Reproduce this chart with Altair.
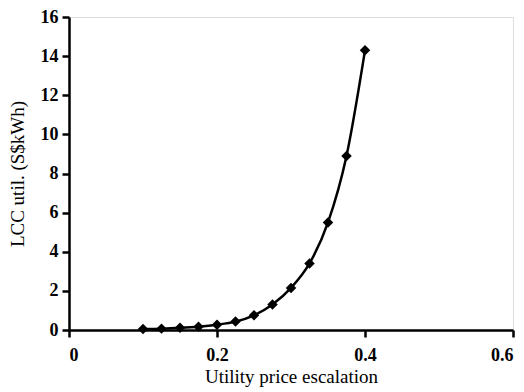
import altair as alt
import pandas as pd

escalation = [0.1, 0.125, 0.15, 0.175, 0.2, 0.225, 0.25, 0.275, 0.3, 0.325, 0.35, 0.375, 0.4]
lcc_util = [0.05, 0.07, 0.11, 0.17, 0.27, 0.43, 0.75, 1.3, 2.15, 3.4, 5.5, 8.9, 14.3]

df = pd.DataFrame({"x": escalation, "y": lcc_util})

axis_common = dict(
    labelFont="Liberation Serif", labelFontSize=18, labelFontWeight="bold", labelColor="black",
    titleFont="Liberation Serif", titleFontWeight="normal", titleColor="black",
    domainColor="black", domainWidth=2.5, tickColor="black", tickWidth=2.5, tickSize=7,
    grid=False,
)

x = alt.X("x:Q", scale=alt.Scale(domain=[0, 0.6], nice=False),
          axis=alt.Axis(title="Utility price escalation", values=[0, 0.2, 0.4, 0.6],
                        format="~g", labelPadding=9, titlePadding=3, titleFontSize=19,
                        **axis_common))
y = alt.Y("y:Q", scale=alt.Scale(domain=[0, 16], nice=False),
          axis=alt.Axis(title="LCC util. (S$kWh)", values=list(range(0, 17, 2)),
                        labelPadding=4, titlePadding=13, titleFontSize=19, **axis_common))

line = alt.Chart(df).mark_line(color="black", strokeWidth=2.5, interpolate="monotone").encode(x=x, y=y)
pts = alt.Chart(df).mark_point(shape="diamond", filled=True, color="black", size=110, opacity=1).encode(x=x, y=y)

chart = (line + pts).properties(
    width=444, height=313,
    autosize=alt.AutoSizeParams(type="none"),
    padding={"left": 61, "top": 9, "right": 2, "bottom": 60},
).configure_view(stroke=None).configure(background="white")

chart.save("out.html", embed_options={"renderer": "svg", "actions": False})
